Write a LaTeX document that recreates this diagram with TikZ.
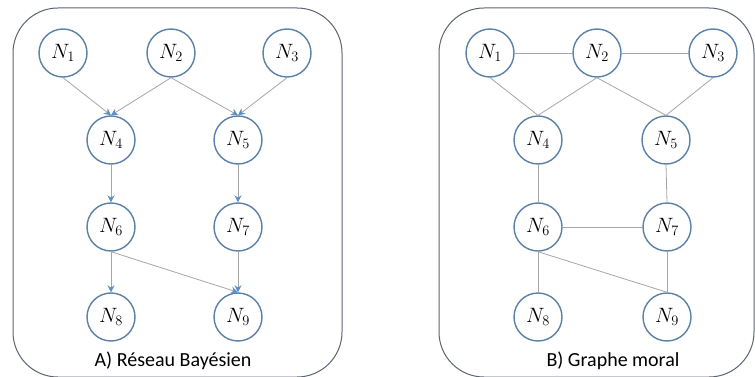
\documentclass[tikz,border=0pt]{standalone}
\usepackage{fontspec}
\setsansfont{Carlito}
\RequirePackage{xcolor}
\usetikzlibrary{arrows.meta}
\usetikzlibrary{positioning}

\definecolor{nodeblue}{HTML}{5B80A8}
\definecolor{tipblue}{HTML}{5B8FCC}
\definecolor{edgegray}{HTML}{A6A6A6}
\definecolor{panelgray}{HTML}{5C6470}

\tikzset{every picture/.style={/utils/exec={\sffamily}}}
\tikzset{
  rv/.style={circle, draw=nodeblue, line width=1.4pt, fill=white,
    minimum size=48pt, inner sep=0pt, font=\fontsize{22}{24}\selectfont},
  link/.style={draw=edgegray, line width=0.8pt},
  dep/.style={link, -{Stealth[length=7pt, width=7pt, color=tipblue]}},
  panel/.style={draw=panelgray, line width=1pt, rounded corners=45pt},
  caption/.style={font=\fontsize{20}{22}\selectfont}
}

\begin{document}
\begin{tikzpicture}[x=1pt, y=-1pt]
  \useasboundingbox (0,0) rectangle (755,377);

  % A) reseau bayesien
  \draw [panel] (13,8) rectangle (342,377);
  \node [rv] (a1) at (63,53)   {$N_1$};
  \node [rv] (a2) at (171,53)  {$N_2$};
  \node [rv] (a3) at (287,53)  {$N_3$};
  \node [rv] (a4) at (111,140) {$N_4$};
  \node [rv] (a5) at (238,140) {$N_5$};
  \node [rv] (a6) at (111,227) {$N_6$};
  \node [rv] (a7) at (238,227) {$N_7$};
  \node [rv] (a8) at (111,317) {$N_8$};
  \node [rv] (a9) at (238,317) {$N_9$};
  \node [caption] (capA) at (173,361) {A) Réseau Bayésien};

  \draw [dep] (a1.south) -- (a4.north);
  \draw [dep] (a2.south) -- (a4.north);
  \draw [dep] (a2.south) -- (a5.north);
  \draw [dep] (a3.south) -- (a5.north);
  \draw [dep] (a4.south) -- (a6.north);
  \draw [dep] (a5.south) -- (a7.north);
  \draw [dep] (a6.south) -- (a8.north);
  \draw [dep] (a6.south) -- (a9.north);
  \draw [dep] (a7.south) -- (a9.north);

  % B) graphe moral
  \draw [panel] (439,8) rectangle (754,377);
  \node [rv] (b1) at (490,53)  {$N_1$};
  \node [rv] (b2) at (597,53)  {$N_2$};
  \node [rv] (b3) at (713,53)  {$N_3$};
  \node [rv] (b4) at (538,140) {$N_4$};
  \node [rv] (b5) at (666,140) {$N_5$};
  \node [rv] (b6) at (538,227) {$N_6$};
  \node [rv] (b7) at (667,227) {$N_7$};
  \node [rv] (b8) at (538,317) {$N_8$};
  \node [rv] (b9) at (667,317) {$N_9$};
  \node [caption] (capB) at (613,361) {B) Graphe moral};

  \draw [link] (b1.east) -- (b2.west);
  \draw [link] (b2.east) -- (b3.west);
  \draw [link] (b1.south) -- (b4.north);
  \draw [link] (b2.south) -- (b4.north);
  \draw [link] (b2.south) -- (b5.north);
  \draw [link] (b3.south) -- (b5.north);
  \draw [link] (b4.south) -- (b6.north);
  \draw [link] (b5.south) -- (b7.north);
  \draw [link] (b6.east) -- (b7.west);
  \draw [link] (b6.south) -- (b8.north);
  \draw [link] (b6.south) -- (b9.north);
  \draw [link] (b7.south) -- (b9.north);
\end{tikzpicture}
\end{document}
